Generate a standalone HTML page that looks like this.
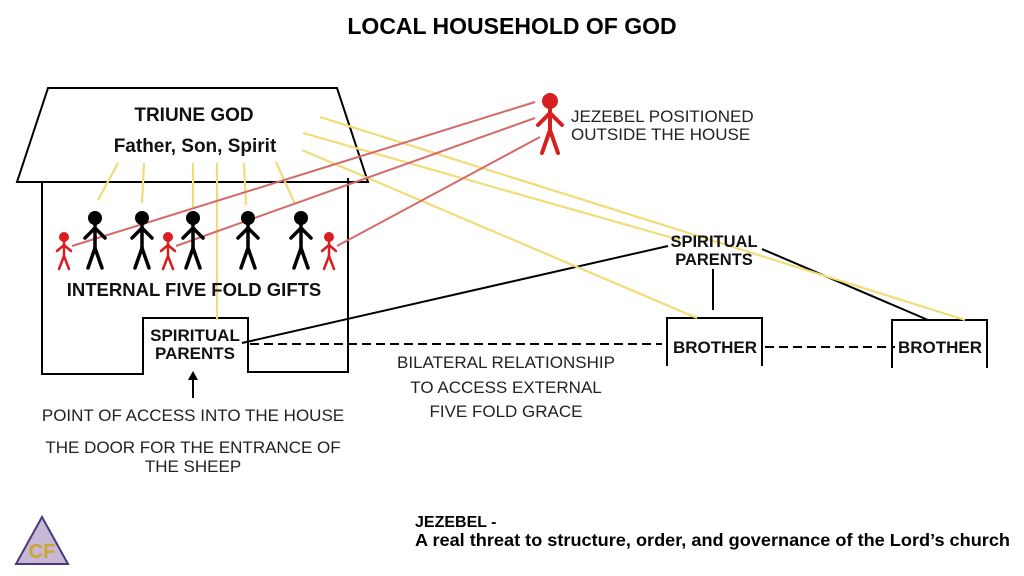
<!DOCTYPE html><html><head><style>body{margin:0;background:#fff}svg{display:block}text{font-family:"Liberation Sans",sans-serif}</style></head><body>
<svg width="1024" height="576" viewBox="0 0 1024 576">
<defs>
<g id="b" stroke="#000" stroke-width="3.5" stroke-linecap="round"><circle cx="0" cy="0" r="7" fill="#000" stroke="none"/><line x1="0" y1="6" x2="0" y2="30"/><line x1="0" y1="10" x2="-10" y2="20"/><line x1="0" y1="10" x2="10" y2="20"/><line x1="0" y1="30" x2="-7" y2="50"/><line x1="0" y1="30" x2="7" y2="50"/></g>
<g id="r" stroke="#d81e1e" stroke-width="2.5" stroke-linecap="round"><circle cx="0" cy="0" r="5" fill="#d81e1e" stroke="none"/><line x1="0" y1="4" x2="0" y2="19"/><line x1="0" y1="8" x2="-7" y2="14"/><line x1="0" y1="8" x2="7" y2="14"/><line x1="0" y1="19" x2="-5" y2="32"/><line x1="0" y1="19" x2="5" y2="32"/></g>
</defs>
<rect width="1024" height="576" fill="#fff"/>
<text x="512" y="34" font-size="23" font-weight="bold" text-anchor="middle">LOCAL HOUSEHOLD OF GOD</text>
<g stroke="#000" stroke-width="2" fill="none">
<polygon points="48,88 337,88 368,182 17,182" fill="#fff"/>
<polyline points="42,182 42,374 143,374 143,318 248,318 248,372 348,372 348,178"/>
<polyline points="667,366 667,318 762,318 762,366"/>
<polyline points="892,368 892,320 987,320 987,368"/>
<line x1="242" y1="343" x2="668" y2="246"/>
<line x1="713" y1="269" x2="713" y2="310"/>
<line x1="762" y1="249" x2="928" y2="320"/>
<line x1="250" y1="344" x2="662" y2="344" stroke-dasharray="9,5"/>
<line x1="765" y1="347" x2="895" y2="347" stroke-dasharray="9,5"/>
<line x1="193" y1="398" x2="193" y2="378"/>
</g>
<polygon points="193,371 188,380 198,380" fill="#000"/>
<g stroke="#f0dc78" stroke-width="2.2">
<line x1="118" y1="163" x2="98" y2="200"/><line x1="144" y1="163" x2="142" y2="203"/>
<line x1="193" y1="163" x2="193" y2="207"/><line x1="217" y1="163" x2="217" y2="320"/>
<line x1="244" y1="163" x2="246" y2="205"/><line x1="276" y1="162" x2="295" y2="204"/>
<line x1="320" y1="117" x2="965" y2="320"/><line x1="303" y1="133" x2="680" y2="240"/>
<line x1="302" y1="150" x2="697" y2="318"/>
</g>
<g stroke="#d46a6a" stroke-width="2">
<line x1="535" y1="102" x2="72" y2="246"/><line x1="535" y1="118" x2="176" y2="246"/><line x1="540" y1="137" x2="337" y2="246"/>
</g>
<use href="#b" x="95" y="218"/><use href="#b" x="142" y="218"/><use href="#b" x="193" y="218"/><use href="#b" x="248" y="218"/><use href="#b" x="301" y="218"/>
<use href="#r" x="64" y="237"/><use href="#r" x="168" y="237"/><use href="#r" x="329" y="237"/>
<g stroke="#d81e1e" stroke-width="4" stroke-linecap="round"><circle cx="550" cy="101" r="8" fill="#d81e1e" stroke="none"/><line x1="550" y1="108" x2="550" y2="130"/><line x1="550" y1="113" x2="538" y2="125"/><line x1="550" y1="113" x2="562" y2="125"/><line x1="550" y1="130" x2="542" y2="153"/><line x1="550" y1="130" x2="558" y2="153"/></g>
<g font-weight="bold" text-anchor="middle" fill="#111">
<text x="194" y="121" font-size="19">TRIUNE GOD</text>
<text x="195" y="152" font-size="19">Father, Son, Spirit</text>
<text x="194" y="296" font-size="18.5">INTERNAL FIVE FOLD GIFTS</text>
<text x="195" y="341" font-size="17">SPIRITUAL</text><text x="195" y="359" font-size="17">PARENTS</text>
<text x="714" y="247" font-size="16.5">SPIRITUAL</text><text x="714" y="265" font-size="16.5">PARENTS</text>
<text x="715" y="353" font-size="17">BROTHER</text><text x="940" y="353" font-size="17">BROTHER</text>
</g>
<g font-size="17" fill="#222">
<text x="571" y="122">JEZEBEL POSITIONED</text><text x="571" y="140">OUTSIDE THE HOUSE</text>
<g text-anchor="middle"><text x="506" y="368">BILATERAL RELATIONSHIP</text><text x="506" y="393">TO ACCESS EXTERNAL</text><text x="506" y="417">FIVE FOLD GRACE</text>
<text x="193" y="421">POINT OF ACCESS INTO THE HOUSE</text><text x="193" y="453">THE DOOR FOR THE ENTRANCE OF</text><text x="193" y="472">THE SHEEP</text></g>
</g>
<text x="415" y="527" font-size="16" font-weight="bold">JEZEBEL -</text>
<text x="415" y="546" font-size="17.5" font-weight="bold" textLength="595" lengthAdjust="spacingAndGlyphs">A real threat to structure, order, and governance of the Lord’s church</text>
<polygon points="42,517 16,564 68,564" fill="#c8b8d8" stroke="#4a3a7a" stroke-width="2"/>
<text x="42" y="558" font-size="20" font-family="Liberation Serif" fill="#c9a82a" text-anchor="middle" font-weight="bold">CF</text>
</svg></body></html>
